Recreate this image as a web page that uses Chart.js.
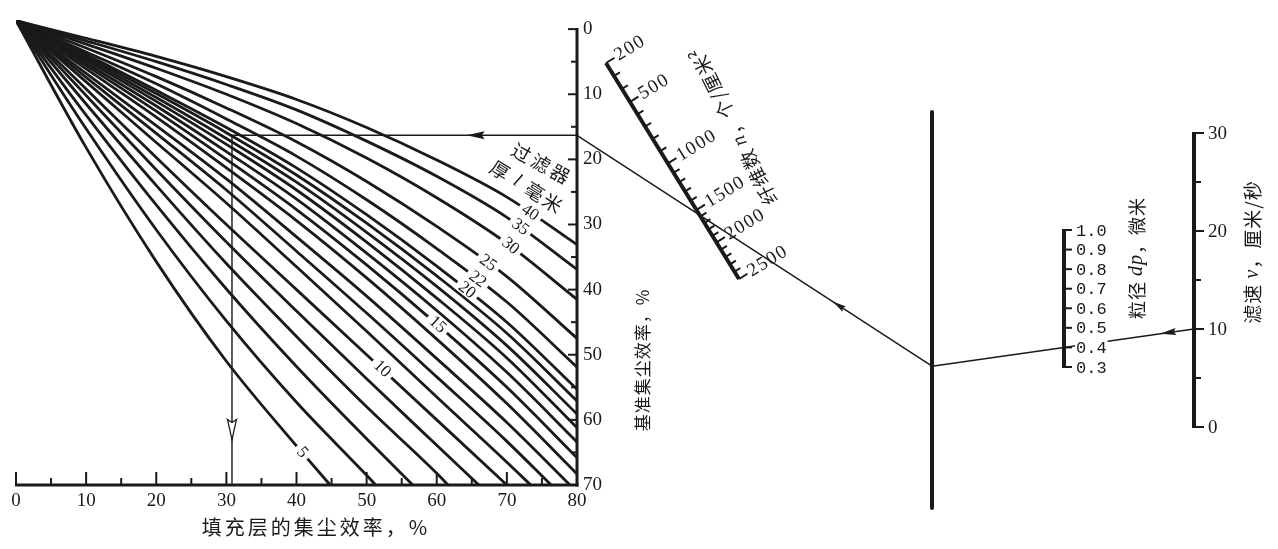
<!DOCTYPE html>
<html>
<head>
<meta charset="utf-8">
<script src="https://cdn.jsdelivr.net/npm/chart.js@4.4.1/dist/chart.umd.min.js"></script>
<style>
  html, body { margin: 0; padding: 0; background: #fff; }
  canvas { display: block; }
</style>
</head>
<body>
<canvas id="nomo" width="1278" height="549"></canvas>
<script>
// ---- data ----
const fillTicks = [0, 10, 20, 30, 40, 50, 60, 70, 80];        // 填充层的集尘效率, %
const fillMinorTicks = [5, 15, 25, 35, 45, 55, 65, 75];
const baseTicks = [0, 10, 20, 30, 40, 50, 60, 70];            // 基准集尘效率, %
const baseMinorTicks = [5, 15, 25, 35, 45, 55, 65];

// filter thickness l (mm) of every curve
const thicknessMm = [5, 6, 7, 8, 9, 10, 11, 12, 13, 14, 15, 16, 17, 18, 19, 20, 22, 25, 30, 35, 40];
// base efficiency read at fill efficiency 0,10,20,...
const fillEffGrid = [0, 10, 20, 30, 40, 50, 60, 70, 80];
const baseEffRows = [
  [-1.3, 18.2, 35.7, 51.0, 64.0],
  [-1.3, 15.3, 30.8, 44.8, 57.3, 68.5],
  [-1.3, 13.2, 27.0, 39.9, 51.8, 62.9],
  [-1.3, 11.5, 24.0, 36.0, 47.2, 58.0, 68.2],
  [-1.3, 10.2, 21.6, 32.7, 43.3, 53.7, 63.9],
  [-1.3, 9.2, 19.7, 30.0, 40.0, 50.0, 60.0, 70.0],
  [-1.3, 8.1, 17.4, 26.7, 36.5, 46.4, 56.5, 66.5],
  [-1.3, 7.4, 16.0, 24.7, 34.1, 43.6, 53.4, 63.3],
  [-1.3, 6.8, 14.8, 23.0, 31.9, 41.0, 50.6, 60.4],
  [-1.3, 6.1, 13.5, 21.3, 29.4, 38.2, 47.6, 57.5, 68.3],
  [-1.3, 5.6, 12.6, 20.0, 27.7, 36.2, 45.3, 55.0, 65.8],
  [-1.3, 5.2, 11.8, 18.8, 26.1, 34.4, 43.2, 52.7, 63.4],
  [-1.3, 4.8, 11.1, 17.7, 24.7, 32.7, 41.3, 50.5, 61.2],
  [-1.3, 4.5, 10.5, 16.8, 23.5, 31.2, 39.5, 48.6, 59.1],
  [-1.3, 4.2, 9.9, 15.9, 22.4, 29.8, 37.9, 46.7, 57.1],
  [-1.3, 3.9, 9.4, 15.1, 21.3, 28.5, 36.4, 45.0, 55.3],
  [-1.3, 3.5, 8.4, 13.8, 19.5, 26.2, 33.7, 41.9, 51.9],
  [-1.3, 2.9, 7.3, 12.1, 17.3, 23.4, 30.3, 38.0, 47.5],
  [-1.3, 2.3, 6.0, 10.0, 14.5, 19.8, 25.9, 32.9, 41.5],
  [-1.3, 1.8, 5.0, 8.5, 12.4, 17.2, 22.6, 28.9, 36.9],
  [-1.3, 1.4, 4.2, 7.3, 10.8, 15.1, 20.1, 25.8, 33.1]
];
// where a curve runs into the bottom edge (base efficiency 70)
const fillEffAtBottom = [44.8, 51.3, 56.6, 61.6, 66.0, null, 73.4, 76.3, 79.0,
  null, null, null, null, null, null, null, null, null, null, null, null];
const labelledThickness = [5, 10, 15, 20, 22, 25, 30, 35, 40];

// side scales
const nTicks = [200, 500, 1000, 1500, 2000, 2500];            // 纤维数 n
const nMinorTicks = [300, 400, 600, 700, 800, 900, 1100, 1200, 1300, 1400,
  1600, 1700, 1800, 1900, 2100, 2200, 2300, 2400];
const dpTicks = [0.3, 0.4, 0.5, 0.6, 0.7, 0.8, 0.9, 1.0];       // 粒径 dp
const vTicks = [0, 10, 20, 30];                                // 滤速 v
const vMinorTicks = [5, 15, 25];

// worked example
const keyV = 10;
const keyDp = 0.4;
const keyBase = 16.3;
const keyFill = 30.8;

// ---- layout / style ----
const INK = '#1a1a1a';
const SERIF = '"Liberation Serif", "DejaVu Serif", serif';
const CJK = '"Noto Sans CJK SC", sans-serif';
const MONO = '"Liberation Mono", "DejaVu Sans Mono", monospace';

const LAYOUT = {
  labelAtFill: [40.8, 52.2, 60.1, 64.3, 65.8, 67.3, 70.5, 71.9, 73.3],
  nAxis: { x0: 606, y0: 63, x1: 739, y1: 279 },
  nAxisFrac: [0, 0.18, 0.465, 0.68, 0.83, 1],
  pivot: { x: 932, top: 112, bottom: 508 },
  dpAxis: { x: 1064, top: 230, bottom: 367 },
  vAxis: { x: 1194, top: 133, bottom: 427 }
};

function nPoint(n) {
  const a = LAYOUT.nAxis, fr = LAYOUT.nAxisFrac;
  let i = 0;
  while (i < nTicks.length - 2 && n > nTicks[i + 1]) i++;
  const f = fr[i] + (n - nTicks[i]) / (nTicks[i + 1] - nTicks[i]) * (fr[i + 1] - fr[i]);
  return { x: a.x0 + (a.x1 - a.x0) * f, y: a.y0 + (a.y1 - a.y0) * f };
}
function dpY(v) {
  const a = LAYOUT.dpAxis, lo = dpTicks[0], hi = dpTicks[dpTicks.length - 1];
  return a.bottom - (v - lo) / (hi - lo) * (a.bottom - a.top);
}
function vY(v) {
  const a = LAYOUT.vAxis, lo = vTicks[0], hi = vTicks[vTicks.length - 1];
  return a.bottom - (v - lo) / (hi - lo) * (a.bottom - a.top);
}

function seg(ctx, x0, y0, x1, y1) {
  ctx.beginPath(); ctx.moveTo(x0, y0); ctx.lineTo(x1, y1); ctx.stroke();
}
function arrowHead(ctx, a, b, f, len, half, filled) {
  const x = a.x + (b.x - a.x) * f, y = a.y + (b.y - a.y) * f;
  ctx.save();
  ctx.translate(x, y);
  ctx.rotate(Math.atan2(b.y - a.y, b.x - a.x));
  ctx.beginPath();
  ctx.moveTo(0, 0); ctx.lineTo(-len, -half); ctx.lineTo(-len * 0.85, 0); ctx.lineTo(-len, half);
  ctx.closePath();
  if (filled) { ctx.fillStyle = INK; ctx.fill(); }
  else { ctx.fillStyle = '#fff'; ctx.fill(); ctx.lineWidth = 1.3; ctx.strokeStyle = INK; ctx.stroke(); }
  ctx.restore();
}
// text made of runs with different fonts, centred at (cx, cy), rotated
function drawRuns(ctx, runs, cx, cy, angle, spacing) {
  ctx.save();
  ctx.translate(cx, cy);
  ctx.rotate(angle);
  ctx.textAlign = 'left';
  ctx.textBaseline = 'middle';
  ctx.letterSpacing = (spacing || 0) + 'px';
  ctx.fillStyle = INK;
  let total = 0;
  const widths = runs.map(r => { ctx.font = r.font; const w = ctx.measureText(r.t).width; total += w; return w; });
  let px = -total / 2;
  runs.forEach((r, i) => { ctx.font = r.font; ctx.fillText(r.t, px, r.dy || 0); px += widths[i]; });
  ctx.restore();
}

const datasets = thicknessMm.map((l, i) => {
  const pts = baseEffRows[i].map((v, j) => ({ x: fillEffGrid[j], y: v }));
  if (fillEffAtBottom[i] !== null) pts.push({ x: fillEffAtBottom[i], y: 70 });
  return {
    label: 'l=' + l,
    data: pts,
    borderColor: INK,
    borderWidth: 2.8,
    pointRadius: 0,
    cubicInterpolationMode: 'monotone'
  };
});
datasets.push({
  label: 'key',
  data: [{ x: 80, y: keyBase }, { x: keyFill, y: keyBase }, { x: keyFill, y: 70 }],
  borderColor: INK,
  borderWidth: 1.4,
  pointRadius: 0,
  tension: 0
});

const nomogram = {
  id: 'nomogram',
  afterDatasetsDraw(chart) {
    const { ctx, scales: { x, y } } = chart;
    ctx.save();
    ctx.strokeStyle = INK;
    ctx.fillStyle = INK;
    ctx.lineCap = 'butt';

    // main axes with inward ticks
    const x0 = x.getPixelForValue(0), x80 = x.getPixelForValue(80);
    const y0 = y.getPixelForValue(0), y70 = y.getPixelForValue(70);
    ctx.lineWidth = 3;
    seg(ctx, x0 - 1, y70, x80 + 1.5, y70);
    seg(ctx, x80, y0 - 1, x80, y70 + 1.5);
    ctx.lineWidth = 2;
    fillTicks.forEach(v => { const p = x.getPixelForValue(v); seg(ctx, p, y70, p, y70 - 13); });
    fillMinorTicks.forEach(v => { const p = x.getPixelForValue(v); seg(ctx, p, y70, p, y70 - 7); });
    baseTicks.forEach(v => { const p = y.getPixelForValue(v); seg(ctx, x80, p, x80 - 9, p); });
    baseMinorTicks.forEach(v => { const p = y.getPixelForValue(v); seg(ctx, x80, p, x80 - 6, p); });

    // curve labels sitting in gaps of their curves
    labelledThickness.forEach((l, k) => {
      const ds = chart.data.datasets[thicknessMm.indexOf(l)].data;
      const fx = LAYOUT.labelAtFill[k];
      let j = 0;
      while (j < ds.length - 2 && ds[j + 1].x < fx) j++;
      const a = ds[j], b = ds[j + 1];
      const yv = a.y + (b.y - a.y) * (fx - a.x) / (b.x - a.x);
      const px = x.getPixelForValue(fx), py = y.getPixelForValue(yv);
      const ang = Math.atan2(y.getPixelForValue(b.y) - y.getPixelForValue(a.y),
                             x.getPixelForValue(b.x) - x.getPixelForValue(a.x));
      ctx.save();
      ctx.translate(px, py);
      ctx.rotate(ang);
      ctx.font = '17px ' + SERIF;
      const w = ctx.measureText(String(l)).width;
      ctx.fillStyle = '#fff';
      ctx.fillRect(-w / 2 - 4, -6, w + 8, 12);
      ctx.fillStyle = INK;
      ctx.textAlign = 'center';
      ctx.textBaseline = 'middle';
      ctx.fillText(String(l), 0, 0);
      ctx.restore();
    });

    drawRuns(ctx, [{ t: '过滤器', font: '19px ' + CJK }], 542, 164, 0.5, 3);
    drawRuns(ctx, [{ t: '厚 ', font: '19px ' + CJK }, { t: 'l', font: 'italic 19px ' + SERIF },
      { t: ' 毫米', font: '19px ' + CJK }], 527, 187, 0.56, 2);

    // axis titles of the main chart
    drawRuns(ctx, [{ t: '填充层的集尘效率，%', font: '20px ' + CJK }], 316, 527, 0, 3);
    drawRuns(ctx, [{ t: '基准集尘效率，%', font: '17px ' + CJK }], 643, 360, -Math.PI / 2, 1);

    // n scale (tilted)
    const na = LAYOUT.nAxis;
    const len = Math.hypot(na.x1 - na.x0, na.y1 - na.y0);
    const nx = (na.y1 - na.y0) / len, ny = -(na.x1 - na.x0) / len;   // normal to the right
    ctx.lineWidth = 4;
    seg(ctx, na.x0, na.y0, na.x1, na.y1);
    ctx.lineWidth = 2;
    nTicks.forEach(v => { const p = nPoint(v); seg(ctx, p.x, p.y, p.x + nx * 10, p.y + ny * 10); });
    nMinorTicks.forEach(v => { const p = nPoint(v); seg(ctx, p.x, p.y, p.x + nx * 7, p.y + ny * 7); });
    const labAng = Math.atan2(ny, nx);
    nTicks.forEach(v => {
      const p = nPoint(v);
      ctx.save();
      ctx.translate(p.x + nx * 12, p.y + ny * 12);
      ctx.rotate(labAng);
      ctx.font = '19px ' + SERIF;
      ctx.letterSpacing = '1.5px';
      ctx.textAlign = 'left';
      ctx.textBaseline = 'middle';
      ctx.fillText(String(v), 0, 0);
      ctx.restore();
    });
    drawRuns(ctx, [{ t: '纤维数 ', font: '19px ' + CJK }, { t: 'n', font: 'italic 20px ' + SERIF },
      { t: '，个/厘米²', font: '19px ' + CJK }], 733, 126, -2.03, 1);

    // pivot line
    const pv = LAYOUT.pivot;
    ctx.lineWidth = 4;
    ctx.lineCap = 'round';
    seg(ctx, pv.x, pv.top, pv.x, pv.bottom);
    ctx.lineCap = 'butt';

    // dp scale
    const da = LAYOUT.dpAxis;
    ctx.lineWidth = 4;
    seg(ctx, da.x, da.top - 1, da.x, da.bottom + 1);
    ctx.lineWidth = 2;
    dpTicks.forEach(v => seg(ctx, da.x, dpY(v), da.x + 8, dpY(v)));

    // v scale
    const va = LAYOUT.vAxis;
    ctx.lineWidth = 4;
    seg(ctx, va.x, va.top - 1, va.x, va.bottom + 1);
    ctx.lineWidth = 2;
    vTicks.forEach(v => seg(ctx, va.x, vY(v), va.x + 10, vY(v)));
    vMinorTicks.forEach(v => seg(ctx, va.x, vY(v), va.x + 7, vY(v)));

    // worked example line: v -> dp -> pivot -> base efficiency
    const base = { x: x80, y: y.getPixelForValue(keyBase) };
    const vPt = { x: va.x, y: vY(keyV) };
    const dpPt = { x: da.x, y: dpY(keyDp) };
    const slope = (vPt.y - dpPt.y) / (vPt.x - dpPt.x);
    const piv = { x: pv.x, y: dpPt.y + slope * (pv.x - dpPt.x) };
    ctx.lineWidth = 1.5;
    seg(ctx, base.x, base.y, piv.x, piv.y);
    seg(ctx, piv.x, piv.y, vPt.x, vPt.y);
    const corner = { x: x.getPixelForValue(keyFill), y: base.y };
    const foot = { x: corner.x, y: y70 };
    arrowHead(ctx, base, corner, 0.32, 18, 4, true);
    arrowHead(ctx, corner, foot, 0.87, 20, 4.5, false);
    arrowHead(ctx, vPt, dpPt, 0.26, 16, 3.5, true);
    arrowHead(ctx, piv, base, 0.28, 14, 3, true);

    // dp labels (drawn over the example line)
    ctx.font = '17px ' + MONO;
    ctx.textAlign = 'left';
    ctx.textBaseline = 'middle';
    dpTicks.forEach(v => {
      const t = v.toFixed(1);
      const w = ctx.measureText(t).width;
      ctx.fillStyle = '#fff';
      ctx.fillRect(da.x + 11, dpY(v) - 8, w + 2, 16);
      ctx.fillStyle = INK;
      ctx.fillText(t, da.x + 12, dpY(v) + 1);
    });
    ctx.font = '19px ' + SERIF;
    vTicks.forEach(v => ctx.fillText(String(v), va.x + 14, vY(v) + 1));

    drawRuns(ctx, [{ t: '粒径 ', font: '18px ' + CJK }, { t: 'dp', font: 'italic 20px ' + SERIF },
      { t: '，微米', font: '18px ' + CJK }], 1137, 258, -Math.PI / 2, 1);
    drawRuns(ctx, [{ t: '滤速 ', font: '19px ' + CJK }, { t: 'v', font: 'italic 20px ' + SERIF },
      { t: '，厘米/秒', font: '19px ' + CJK }], 1253, 252, -Math.PI / 2, 1);

    ctx.restore();
  }
};

new Chart(document.getElementById('nomo'), {
  type: 'line',
  data: { datasets },
  options: {
    responsive: false,
    animation: false,
    events: [],
    layout: { padding: { left: 16, top: 20, right: 661, bottom: 0 } },
    plugins: { legend: { display: false }, tooltip: { enabled: false }, title: { display: false } },
    scales: {
      x: {
        type: 'linear',
        min: 0,
        max: 80,
        grid: { display: false, drawTicks: false },
        border: { display: false },
        afterBuildTicks: s => { s.ticks = fillTicks.map(v => ({ value: v })); },
        ticks: { color: INK, font: { family: SERIF, size: 19 }, padding: 5, maxRotation: 0, autoSkip: false },
        afterFit: s => { s.height = 64; }
      },
      y: {
        type: 'linear',
        position: 'right',
        reverse: true,
        min: -1.4,
        max: 70,
        grid: { display: false, drawTicks: false },
        border: { display: false },
        afterBuildTicks: s => { s.ticks = baseTicks.map(v => ({ value: v })); },
        ticks: { color: INK, font: { family: SERIF, size: 19 }, padding: 6 },
        afterFit: s => { s.width = 40; }
      }
    }
  },
  plugins: [nomogram]
});
</script>
</body>
</html>
